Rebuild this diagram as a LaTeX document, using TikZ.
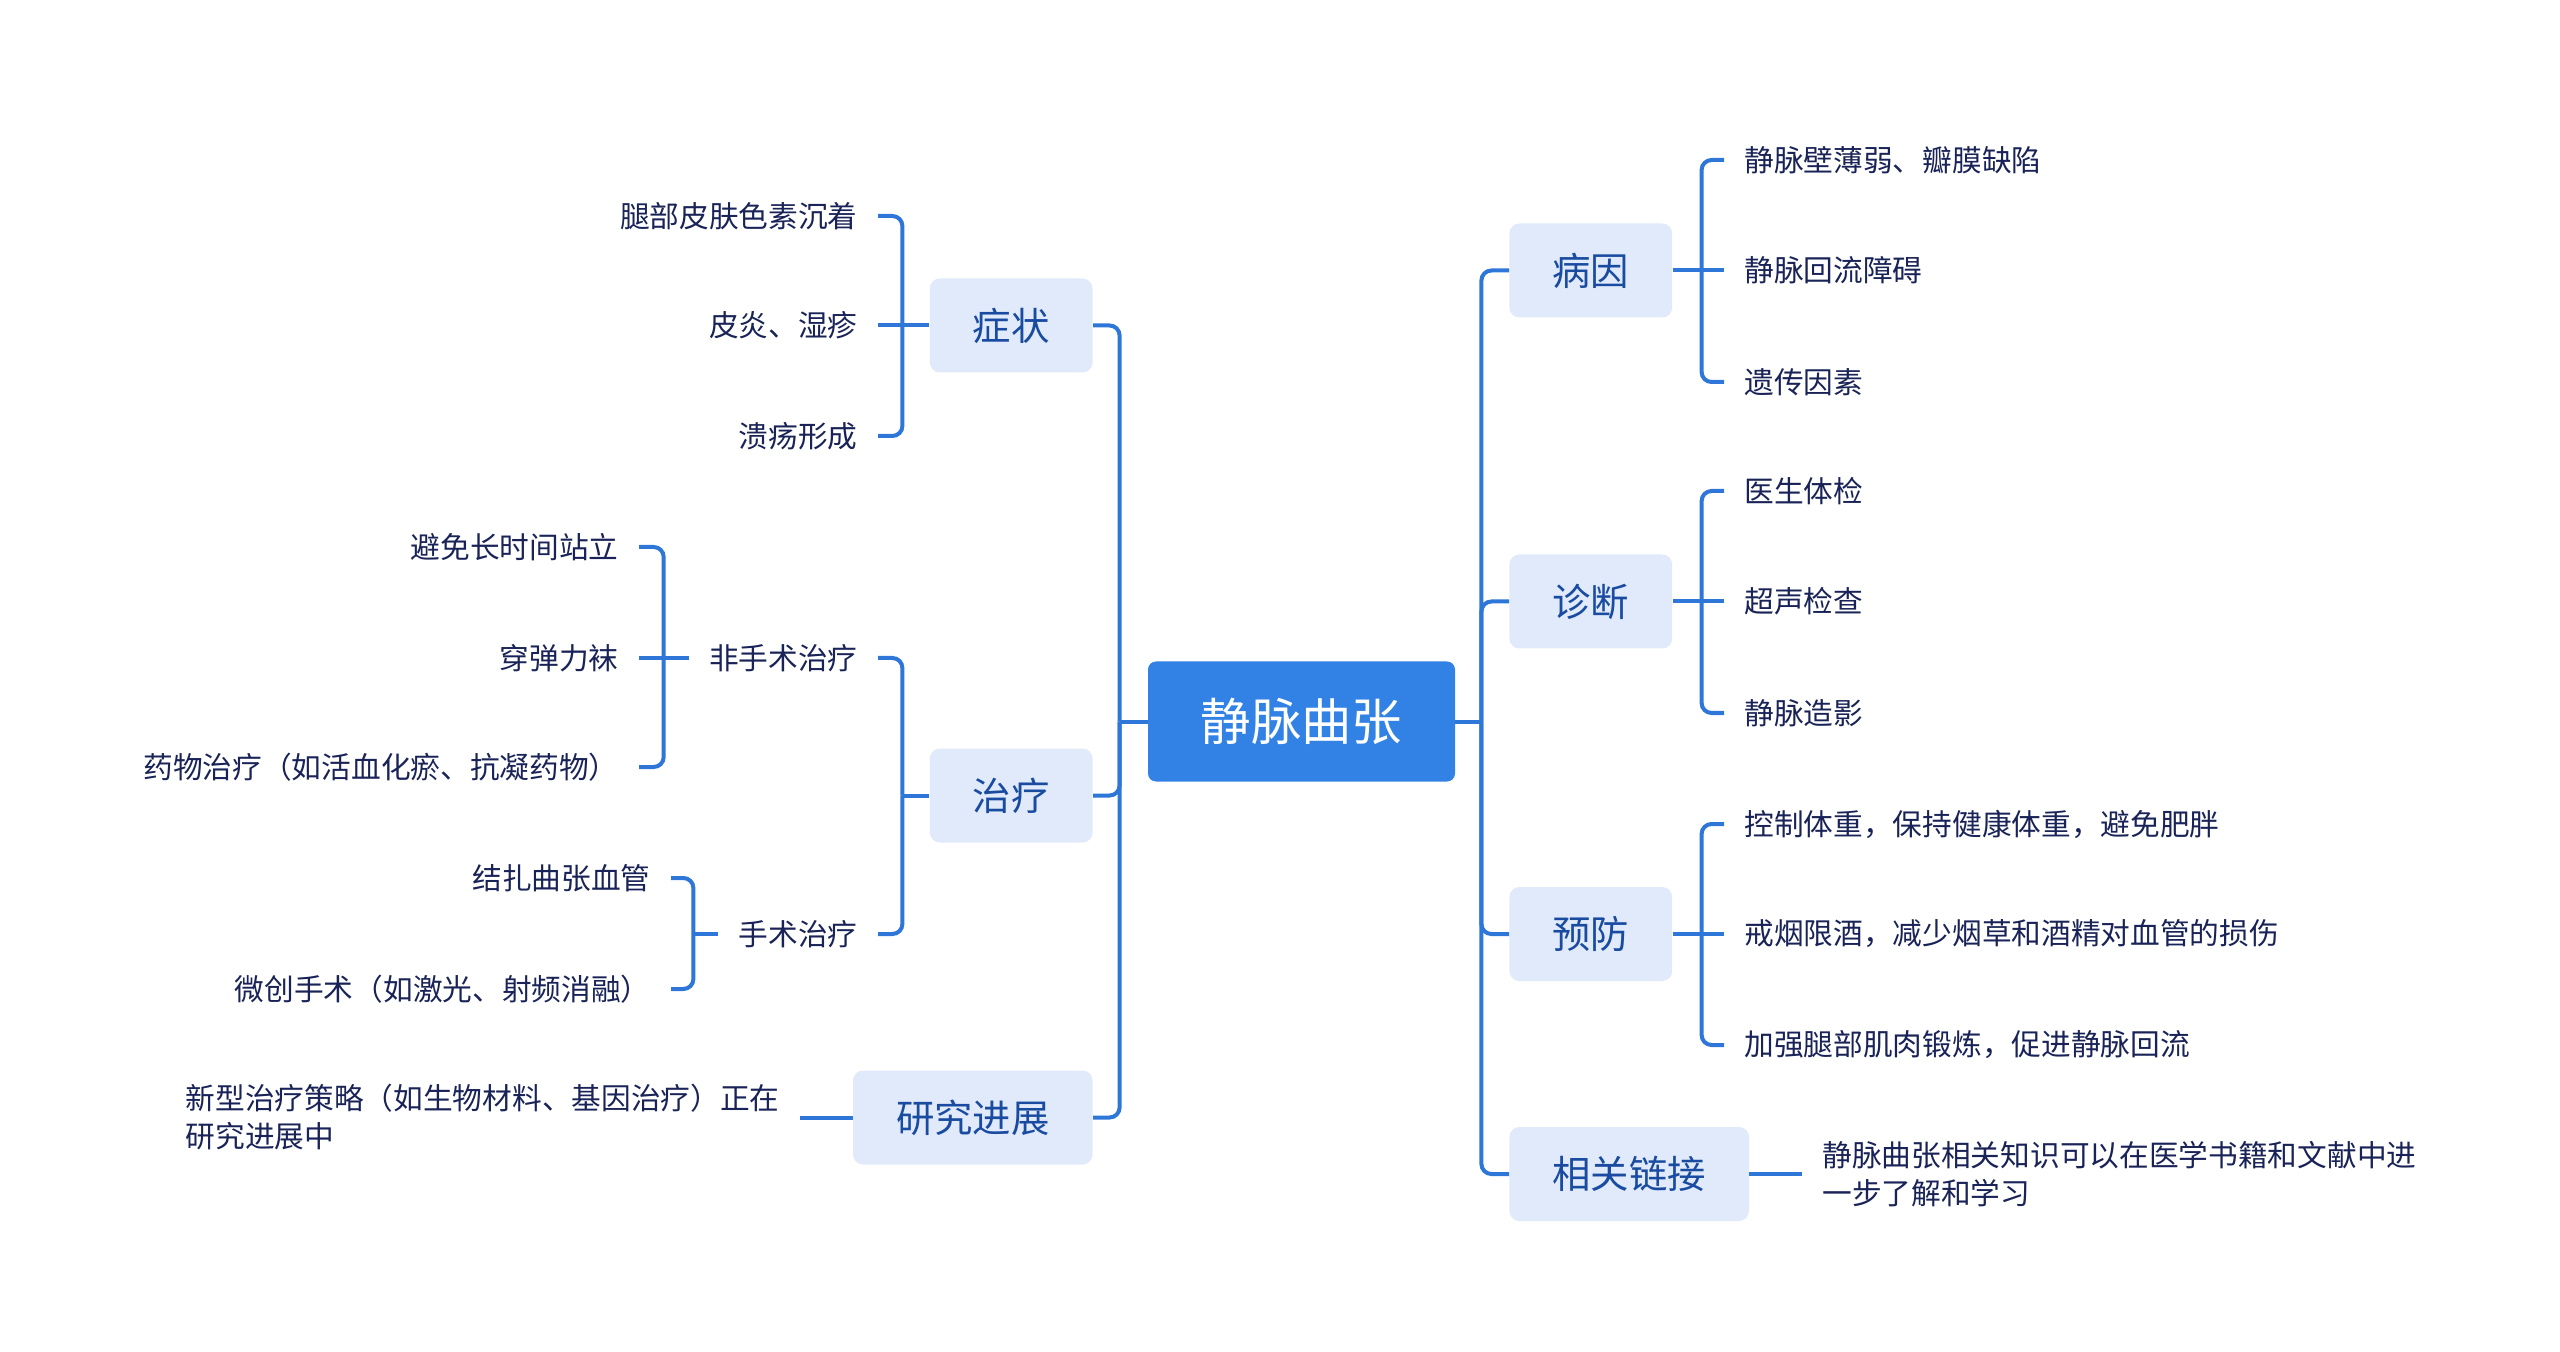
\documentclass[tikz,border=0pt]{standalone}
\usepackage{fontspec}
\setmainfont{Noto Sans CJK SC}
\usetikzlibrary{positioning}
\definecolor{vvblue}{HTML}{3282E6}
\definecolor{vvline}{HTML}{2E76D8}
\definecolor{vvpale}{HTML}{E1EAFA}
\definecolor{vvtopic}{HTML}{194BA0}
\definecolor{vvtext}{HTML}{1A2357}
\tikzset{
  core/.style={
    fill=vvblue, text=white, rounded corners=4pt, minimum width=153.5pt,
    minimum height=60pt, font=\fontsize{25.2}{30}\selectfont},
  topic/.style={
    fill=vvpale, text=vvtopic, rounded corners=5pt, inner xsep=21.5pt,
    minimum height=47pt, font=\fontsize{19.2}{23}\selectfont},
  item/.style={text=vvtext, inner xsep=10pt, inner ysep=2pt, align=left,
    font=\fontsize{14.85}{19}\selectfont},
  branch/.style={draw=vvline, line width=2pt, rounded corners=5pt},
}

\begin{document}
\begin{tikzpicture}[x=0.5pt, y=-0.5pt]
  \useasboundingbox (0,0) rectangle (2560,1352);
  \node[core] (root) at (1301.5,721.5) {静脉曲张};

  % left half
  \node[topic, anchor=east] (sym) at (1093,325.5) {症状};
  \node[item, anchor=east] (s1) at (878,216) {腿部皮肤色素沉着};
  \node[item, anchor=east] (s2) at (878,325.5) {皮炎、湿疹};
  \node[item, anchor=east] (s3) at (878,436) {溃疡形成};

  \node[topic, anchor=east] (tre) at (1093,795.5) {治疗};
  \node[item, anchor=east] (nos) at (878,658) {非手术治疗};
  \node[item, anchor=east] (n1) at (639,547) {避免长时间站立};
  \node[item, anchor=east] (n2) at (639,658) {穿弹力袜};
  \node[item, anchor=east] (n3) at (639,767) {药物治疗（如活血化瘀、抗凝药物）};
  \node[item, anchor=east] (sur) at (878,934) {手术治疗};
  \node[item, anchor=east] (u1) at (671,878) {结扎曲张血管};
  \node[item, anchor=east] (u2) at (671,989) {微创手术（如激光、射频消融）};

  \node[topic, anchor=east] (res) at (1093,1117.5) {研究进展};
  \node[item, anchor=east] (r1) at (800,1117.5)
       {新型治疗策略（如生物材料、基因治疗）正在\\研究进展中};

  % right half
  \node[topic, anchor=west] (cau) at (1509,270.5) {病因};
  \node[item, anchor=west] (c1) at (1724,160) {静脉壁薄弱、瓣膜缺陷};
  \node[item, anchor=west] (c2) at (1724,270.5) {静脉回流障碍};
  \node[item, anchor=west] (c3) at (1724,382) {遗传因素};

  \node[topic, anchor=west] (dia) at (1509,601.5) {诊断};
  \node[item, anchor=west] (d1) at (1724,491) {医生体检};
  \node[item, anchor=west] (d2) at (1724,601.5) {超声检查};
  \node[item, anchor=west] (d3) at (1724,713) {静脉造影};

  \node[topic, anchor=west] (pre) at (1509,934) {预防};
  \node[item, anchor=west] (p1) at (1724,824) {控制体重，保持健康体重，避免肥胖};
  \node[item, anchor=west] (p2) at (1724,934) {戒烟限酒，减少烟草和酒精对血管的损伤};
  \node[item, anchor=west] (p3) at (1724,1045) {加强腿部肌肉锻炼，促进静脉回流};

  \node[topic, anchor=west] (lnk) at (1509,1174) {相关链接};
  \node[item, anchor=west] (l1) at (1802,1174)
       {静脉曲张相关知识可以在医学书籍和文献中进\\一步了解和学习};

  % connectors: each stub ends in a joint, the bends start from the joint
  % so only the outer corners get rounded
  \draw[branch] (root.west) -- ++(-28,0) coordinate (rootL);
  \draw[branch] (rootL) |- (sym.east);
  \draw[branch] (rootL) |- (tre.east);
  \draw[branch] (rootL) |- (res.east);
  \draw[branch] (root.east) -- ++(26,0) coordinate (rootR);
  \draw[branch] (rootR) |- (cau.west);
  \draw[branch] (rootR) |- (dia.west);
  \draw[branch] (rootR) |- (pre.west);
  \draw[branch] (rootR) |- (lnk.west);

  \draw[branch] (sym.west) -- (s2.east);
  \coordinate (symJ) at ([xshift=-13.5pt]sym.west);
  \draw[branch] (symJ) |- (s1.east);
  \draw[branch] (symJ) |- (s3.east);
  \draw[branch] (tre.west) -- ++(-27,0) coordinate (treJ);
  \draw[branch] (treJ) |- (nos.east);
  \draw[branch] (treJ) |- (sur.east);
  \draw[branch] (nos.west) -- (n2.east);
  \coordinate (nosJ) at ([xshift=-12.5pt]nos.west);
  \draw[branch] (nosJ) |- (n1.east);
  \draw[branch] (nosJ) |- (n3.east);
  \draw[branch] (sur.west) -- ++(-25,0) coordinate (surJ);
  \draw[branch] (surJ) |- (u1.east);
  \draw[branch] (surJ) |- (u2.east);
  \draw[branch] (res.west) -- (r1.east);

  \draw[branch] (cau.east) -- (c2.west);
  \coordinate (cauJ) at ([xshift=14.5pt]cau.east);
  \draw[branch] (cauJ) |- (c1.west);
  \draw[branch] (cauJ) |- (c3.west);
  \draw[branch] (dia.east) -- (d2.west);
  \coordinate (diaJ) at ([xshift=14.5pt]dia.east);
  \draw[branch] (diaJ) |- (d1.west);
  \draw[branch] (diaJ) |- (d3.west);
  \draw[branch] (pre.east) -- (p2.west);
  \coordinate (preJ) at ([xshift=14.5pt]pre.east);
  \draw[branch] (preJ) |- (p1.west);
  \draw[branch] (preJ) |- (p3.west);
  \draw[branch] (lnk.east) -- (l1.west);
\end{tikzpicture}
\end{document}
